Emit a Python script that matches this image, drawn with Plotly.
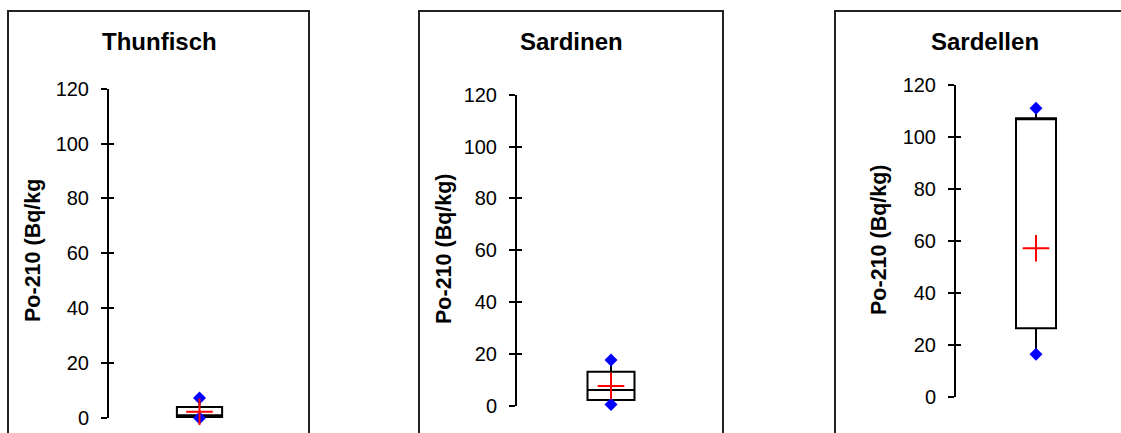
import plotly.graph_objects as go

W, H = 1121, 433

categories = ["Thunfisch", "Sardinen", "Sardellen"]
q1 = [0.4, 2.3, 26.3]
median = [1.0, 6.2, 107.0]
q3 = [4.0, 13.2, 107.1]
minimum = [0.0, 0.6, 16.3]
maximum = [7.3, 17.7, 110.9]
mean = [2.3, 7.7, 57.1]
y_titles = ["Po-210 (Bq/kg", "Po-210 (Bq/kg)", "Po-210 (Bq/kg)"]
y_ticks = [0, 20, 40, 60, 80, 100, 120]

# layout in pixels (styling only)
x_dom = [(109, 290), (517, 705), (956, 1116)]
y_dom = [(418, 88.7), (406, 94.7), (396.7, 84.7)]  # pixel y of value 0, value 120
frames = [(8, 309), (419, 723), (835, 1200)]
title_x = [159, 571, 985]
ylab_x = [33, 444, 879]
ylab_y = [251, 249, 240]

FONT = "Liberation Sans, Arial, sans-serif"

fig = go.Figure()
layout = dict(
    template="none",
    width=W, height=H, margin=dict(l=0, r=0, t=0, b=0, pad=0, autoexpand=False),
    paper_bgcolor="white", plot_bgcolor="white", showlegend=False,
    font=dict(family=FONT, color="black"),
)
shapes, annotations = [], []

for i, cat in enumerate(categories):
    n = "" if i == 0 else str(i + 1)
    xa, ya = "x" + n, "y" + n
    fig.add_trace(go.Box(
        x=[cat], q1=[q1[i]], median=[median[i]], q3=[q3[i]],
        lowerfence=[minimum[i]], upperfence=[maximum[i]],
        xaxis=xa, yaxis=ya, width=0.25, whiskerwidth=0,
        fillcolor="white", line=dict(color="black", width=2),
        boxpoints=False, hoverinfo="skip",
    ))
    fig.add_trace(go.Scatter(
        x=[cat, cat], y=[minimum[i], maximum[i]], mode="markers",
        xaxis=xa, yaxis=ya, cliponaxis=False,
        marker=dict(symbol="diamond", size=10, color="#0000FF"),
    ))
    fig.add_trace(go.Scatter(
        x=[cat], y=[mean[i]], mode="markers",
        xaxis=xa, yaxis=ya, cliponaxis=False,
        marker=dict(symbol="cross-thin", size=19, color="red",
                    line=dict(color="red", width=2)),
    ))
    x0, x1 = x_dom[i]
    yb, yt = y_dom[i]
    layout["xaxis" + n] = dict(
        domain=[x0 / W, x1 / W], anchor=ya, visible=False, automargin=False,
        type="category", range=[-0.5, 0.5],
    )
    layout["yaxis" + n] = dict(
        domain=[(H - yb) / H, (H - yt) / H], anchor=xa, range=[0, 120],
        automargin=False,
        tickvals=y_ticks, showline=True, linecolor="black", linewidth=2,
        ticks="outside", ticklen=6, tickwidth=2, tickcolor="black",
        showgrid=False, zeroline=False, ticklabelstandoff=8,
        tickfont=dict(size=20, family=FONT, color="black"),
    )
    # inside ticks so the tick marks cross the axis line
    k = str(i + 4)
    fig.add_trace(go.Scatter(x=[cat], y=[None], xaxis=xa, yaxis="y" + k,
                             mode="markers", hoverinfo="skip"))
    layout["yaxis" + k] = dict(
        overlaying=ya, anchor=xa, range=[0, 120], tickvals=y_ticks,
        automargin=False,
        ticks="inside", ticklen=5, tickwidth=2, tickcolor="black",
        showticklabels=False, showgrid=False, zeroline=False, showline=False,
    )
    f0, f1 = frames[i]
    shapes.append(dict(type="rect", xref="paper", yref="paper",
                       x0=f0 / W, x1=f1 / W, y0=-0.2, y1=(H - 11) / H,
                       line=dict(color="#222", width=2), layer="below"))
    annotations.append(dict(text="<b>%s</b>" % cat, xref="paper", yref="paper",
                            x=title_x[i] / W, y=(H - 41) / H, showarrow=False,
                            xanchor="center", yanchor="middle",
                            font=dict(size=24, family=FONT, color="black")))
    annotations.append(dict(text="<b>%s</b>" % y_titles[i], xref="paper", yref="paper",
                            x=ylab_x[i] / W, y=(H - ylab_y[i]) / H, showarrow=False,
                            textangle=-90, xanchor="center", yanchor="middle",
                            font=dict(size=21.5, family=FONT, color="black")))

layout["shapes"] = shapes
layout["annotations"] = annotations
fig.update_layout(**layout)
fig.write_html("out.html")
